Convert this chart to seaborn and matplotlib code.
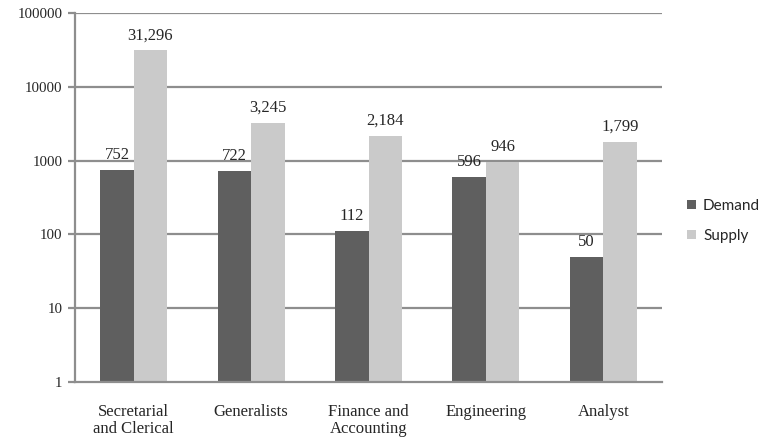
import matplotlib
matplotlib.use("Agg")
import matplotlib.pyplot as plt
import seaborn as sns
import pandas as pd
from matplotlib.ticker import FixedLocator, FixedFormatter, NullLocator

categories = ["Secretarial\nand Clerical", "Generalists", "Finance and\nAccounting",
              "Engineering", "Analyst"]
demand = [752, 722, 112, 596, 50]
supply = [31296, 3245, 2184, 946, 1799]
series = ["Demand", "Supply"]
colors = ["#5f5f5f", "#cacaca"]
y_ticks = [1, 10, 100, 1000, 10000, 100000]
y_tick_labels = ["1", "10", "100", "1000", "10000", "100000"]

df = pd.DataFrame({
    "category": categories * 2,
    "series": [series[0]] * len(categories) + [series[1]] * len(categories),
    "value": demand + supply,
})

sns.set_style("white")
plt.rcParams["font.family"] = ["Liberation Serif", "DejaVu Serif"]

fig = plt.figure(figsize=(7.61, 4.38), dpi=100)
ax = fig.add_axes([75 / 761, 1 - 382 / 438, (662 - 75) / 761, (382 - 13) / 438])
ax.set_yscale("log")

sns.barplot(data=df, x="category", y="value", hue="series", order=categories,
            hue_order=series, palette=colors, width=0.57, saturation=1,
            linewidth=0, ax=ax, legend=True)

ax.set_ylim(1, 100000)
ax.set_xlim(-0.5, len(categories) - 0.5)

grid_color = "#8e8e8e"
for y in y_ticks[1:]:
    ax.axhline(y, color=grid_color, lw=1.6, zorder=0)

ax.yaxis.set_major_locator(FixedLocator(y_ticks))
ax.yaxis.set_major_formatter(FixedFormatter(y_tick_labels))
ax.yaxis.set_minor_locator(NullLocator())

# category boundaries carry the x tick marks; labels sit at centres
ax.set_xticks([i for i in range(len(categories))])
ax.set_xticklabels(categories, fontsize=12, linespacing=1.05)
ax.set_xticks([i - 0.5 for i in range(len(categories) + 1)], minor=True)
ax.tick_params(axis="x", which="major", length=0, pad=16)
ax.tick_params(axis="x", which="minor", length=5, width=1.6, color=grid_color, direction="out")
ax.tick_params(axis="y", which="major", length=5, width=1.6, color=grid_color,
               direction="out", labelsize=10.7, pad=4)
ax.tick_params(bottom=True, left=True)

for side in ["top", "right"]:
    ax.spines[side].set_visible(False)
for side in ["left", "bottom"]:
    ax.spines[side].set_color(grid_color)
    ax.spines[side].set_linewidth(1.6)

ax.set_xlabel("")
ax.set_ylabel("")

for container in ax.containers:
    labels = [f"{int(round(b.get_height())):,}" for b in container]
    ax.bar_label(container, labels=labels, padding=5, fontsize=12)

handles, labs = ax.get_legend_handles_labels()
ax.legend(handles, labs, loc="center left", bbox_to_anchor=(687 / 761, 1 - 221 / 438),
          bbox_transform=fig.transFigure, frameon=False, borderpad=0, borderaxespad=0,
          handlelength=0.6, handleheight=0.6, handletextpad=0.45, labelspacing=1.05,
          prop={"family": ["Lato", "DejaVu Sans"], "size": 11})

fig.savefig("out.png", dpi=100)
